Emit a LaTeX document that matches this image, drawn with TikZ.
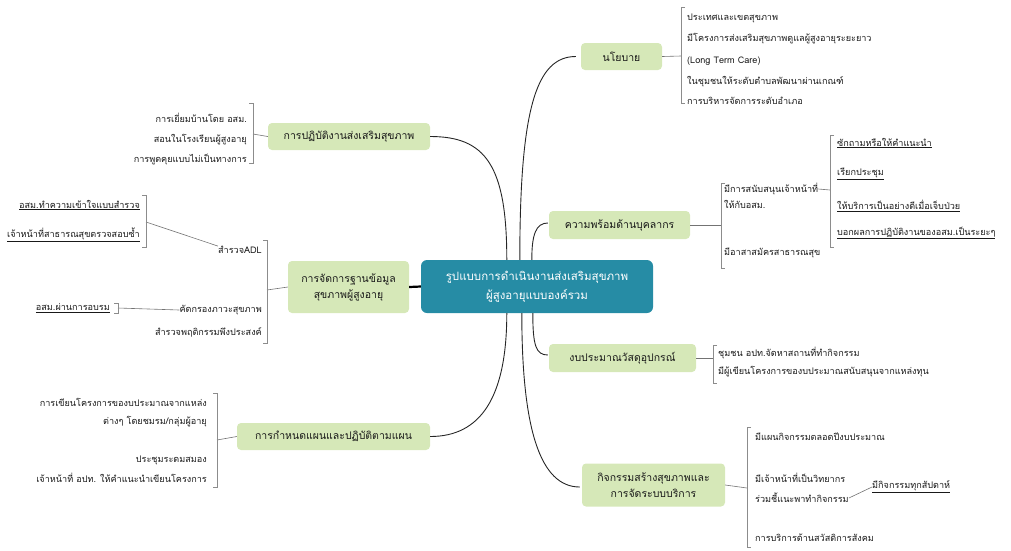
\documentclass[tikz,border=0pt]{standalone}
\usepackage{fontspec}
\newfontfamily\thai[Script=Thai]{Loma}
\usetikzlibrary{calc}
\definecolor{teal1}{HTML}{268CA5}
\definecolor{green1}{HTML}{D6E8B8}
\begin{document}
\begin{tikzpicture}[x=1pt,y=-1pt,
  centre/.style={fill=teal1,rounded corners=6pt,text=white,align=center,inner sep=0pt,
    font=\thai\fontsize{11.5}{19}\selectfont},
  topic/.style={fill=green1,rounded corners=4pt,align=center,inner sep=0pt,text=black!90,
    font=\thai\fontsize{10.5}{16}\selectfont},
  leaf/.style={inner sep=0pt,text=black!90,font=\thai\fontsize{9.1}{12}\selectfont},
  conn/.style={draw=black!85,line width=0.9pt},
  thick conn/.style={draw=black,line width=2.2pt},
  brk/.style={draw=black!45,line width=0.6pt},
  twig/.style={draw=black!55,line width=0.6pt}]
\useasboundingbox (0,0) rectangle (1011,550);

% centre
\node[centre,minimum width=232pt,minimum height=53pt] (c) at (537,286.5)
  {รูปแบบการดำเนินงานส่งเสริมสุขภาพ\\ผู้สูงอายุแบบองค์รวม};

% topics
\node[topic,minimum width=81pt,minimum height=27pt] (t1) at (621.5,56.5) {นโยบาย};
\node[topic,minimum width=141pt,minimum height=28pt] (t2) at (619.5,225) {ความพร้อมด้านบุคลากร};
\node[topic,minimum width=147pt,minimum height=28pt] (t3) at (622.5,358) {งบประมาณวัสดุอุปกรณ์};
\node[topic,minimum width=143pt,minimum height=43pt] (t4) at (653.5,485) {กิจกรรมสร้างสุขภาพและ\\การจัดระบบบริการ};
\node[topic,minimum width=162pt,minimum height=27pt] (t5) at (349,136.5) {การปฏิบัติงานส่งเสริมสุขภาพ};
\node[topic,minimum width=121pt,minimum height=52pt] (t6) at (348.5,287) {การจัดการฐานข้อมูล\\สุขภาพผู้สูงอายุ};
\node[topic,minimum width=193pt,minimum height=27pt] (t7) at (333.5,436.5) {การกำหนดแผนและปฏิบัติตามแผน};

% main connectors
\draw[conn] ($(c.north west)+(99,0)$) .. controls +(0,-150) and +(-40,0) .. ($(t1.west)+(-5,0)$);
\draw[conn] ($(c.north west)+(111,0)$) .. controls +(0,-25) and +(-12,0) .. ($(t2.west)+(-1,-2)$);
\draw[conn] ($(c.north west)+(86,0)$) .. controls +(0,-95) and +(55,0) .. (t5.east);
\draw[thick conn] (c.west) -- (t6.east);
\draw[conn] ($(c.south west)+(86,0)$) .. controls +(0,85) and +(50,0) .. (t7.east);
\draw[conn] ($(c.south west)+(101,0)$) .. controls +(0,115) and +(-40,0) .. ($(t4.west)+(-2,2)$);
\draw[conn] ($(c.south west)+(112,0)$) .. controls +(0,32) and +(-12,0) .. ($(t3.west)+(-1,-3)$);

% ---- นโยบาย
\coordinate (b1) at (681,56);
\draw[twig] (t1.east) -- (b1);
\draw[brk] (685,7) -- (681,7) -- (681,103) -- (685,103);
\node[leaf,anchor=west] (l1a) at (687,18) {ประเทศและเขตสุขภาพ};
\node[leaf,anchor=west] (l1b) at (687,39) {มีโครงการส่งเสริมสุขภาพดูแลผู้สูงอายุระยะยาว};
\node[leaf,anchor=west] (l1c) at (687,61) {(Long Term Care)};
\node[leaf,anchor=west] (l1d) at (687,82) {ในชุมชนให้ระดับตำบลพัฒนาผ่านเกณฑ์};
\node[leaf,anchor=west] (l1e) at (687,101) {การบริหารจัดการระดับอำเภอ};

% ---- ความพร้อมด้านบุคลากร
\coordinate (b2) at (721,225);
\draw[twig] (t2.east) -- (b2);
\draw[brk] (725,183) -- (721,183) -- (721,268) -- (725,268);
\node[leaf,anchor=west] (l2a) at (724,189) {มีการสนับสนุนเจ้าหน้าที่};
\node[leaf,anchor=west] (l2b) at (724,204) {ให้กับอสม.};
\node[leaf,anchor=west] (l2c) at (724,253) {มีอาสาสมัครสาธารณสุข};
\coordinate (b2s) at (830,190);
\draw[twig] (l2a.east) -- (b2s);
\draw[brk] (834,135) -- (830,135) -- (830,247) -- (834,247);
\node[leaf,anchor=west] (l2d) at (837,143) {\underline{ซักถามหรือให้คำแนะนำ}};
\node[leaf,anchor=west] (l2e) at (837,174) {\underline{เรียกประชุม}};
\node[leaf,anchor=west] (l2f) at (837,206) {\underline{ให้บริการเป็นอย่างดีเมื่อเจ็บป่วย}};
\node[leaf,anchor=west] (l2g) at (837,233) {\underline{บอกผลการปฏิบัติงานของอสม.เป็นระยะๆ}};

% ---- งบประมาณวัสดุอุปกรณ์
\coordinate (b3) at (713,358);
\draw[twig] (t3.east) -- (b3);
\draw[brk] (717,345) -- (713,345) -- (713,383) -- (717,383);
\node[leaf,anchor=west] (l3a) at (718,353) {ชุมชน อปท.จัดหาสถานที่ทำกิจกรรม};
\node[leaf,anchor=west] (l3b) at (718,372) {มีผู้เขียนโครงการของบประมาณสนับสนุนจากแหล่งทุน};

% ---- กิจกรรมสร้างสุขภาพ
\coordinate (b4) at (747,488);
\draw[twig] (t4.east) -- (b4);
\draw[brk] (751,427) -- (747,427) -- (747,547) -- (751,547);
\node[leaf,anchor=west] (l4a) at (755,437) {มีแผนกิจกรรมตลอดปีงบประมาณ};
\node[leaf,anchor=west] (l4b) at (755,478) {มีเจ้าหน้าที่เป็นวิทยากร};
\node[leaf,anchor=west] (l4c) at (755,498) {ร่วมชี้แนะพาทำกิจกรรม};
\node[leaf,anchor=west] (l4d) at (755,538) {การบริการด้านสวัสดิการสังคม};
\node[leaf,anchor=west] (l4e) at (872,487) {\underline{มีกิจกรรมทุกสัปดาห์}};
\draw[twig] (l4c.east) -- (l4e.west);

% ---- การปฏิบัติงานส่งเสริมสุขภาพ
\coordinate (b5) at (253,134);
\draw[twig] (t5.west) -- (b5);
\draw[brk] (249,103) -- (253,103) -- (253,163) -- (249,163);
\node[leaf,anchor=east] (l5a) at (247,118) {การเยี่ยมบ้านโดย อสม.};
\node[leaf,anchor=east] (l5b) at (247,140) {สอนในโรงเรียนผู้สูงอายุ};
\node[leaf,anchor=east] (l5c) at (247,159) {การพูดคุยแบบไม่เป็นทางการ};

% ---- การจัดการฐานข้อมูล
\coordinate (b6) at (267,290);
\draw[twig] (t6.west) -- (b6);
\draw[brk] (263,240) -- (267,240) -- (267,343) -- (263,343);
\node[leaf,anchor=east] (l6a) at (262,250) {สำรวจADL};
\node[leaf,anchor=east] (l6b) at (262,310) {คัดกรองภาวะสุขภาพ};
\node[leaf,anchor=east] (l6c) at (262,332) {สำรวจพฤติกรรมพึงประสงค์};
\coordinate (b6a) at (146,222);
\draw[twig] (l6a.north west) -- (b6a);
\draw[brk] (142,195) -- (146,195) -- (146,247) -- (142,247);
\node[leaf,anchor=east] (l6d) at (140,205) {\underline{อสม.ทำความเข้าใจแบบสำรวจ}};
\node[leaf,anchor=east] (l6e) at (140,235) {\underline{เจ้าหน้าที่สาธารณสุขตรวจสอบซ้ำ}};
\coordinate (b6b) at (118,308);
\draw[twig] (l6b.west) -- (b6b);
\draw[brk] (114,303) -- (118,303) -- (118,313) -- (114,313);
\node[leaf,anchor=east] (l6f) at (110,308) {\underline{อสม.ผ่านการอบรม}};

% ---- การกำหนดแผน
\coordinate (b7) at (217,440);
\draw[twig] (t7.west) -- (b7);
\draw[brk] (213,393) -- (217,393) -- (217,487) -- (213,487);
\node[leaf,anchor=east] (l7a) at (207,402) {การเขียนโครงการของบประมาณจากแหล่ง};
\node[leaf,anchor=east] (l7b) at (207,422) {ต่างๆ โดยชมรม/กลุ่มผู้อายุ};
\node[leaf,anchor=east] (l7c) at (207,460) {ประชุมระดมสมอง};
\node[leaf,anchor=east] (l7d) at (207,478) {เจ้าหน้าที่ อปท. ให้คำแนะนำเขียนโครงการ};
\end{tikzpicture}
\end{document}
